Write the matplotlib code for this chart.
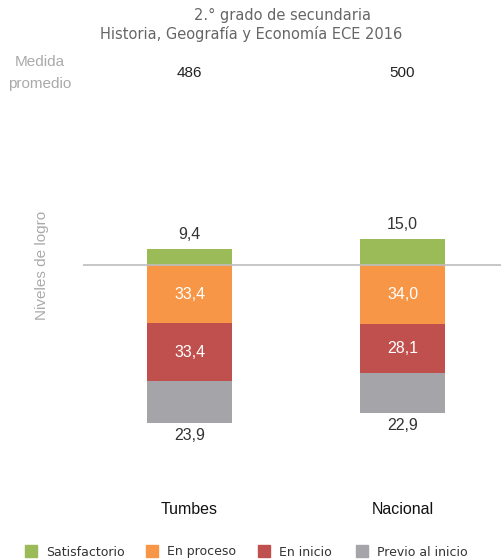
import matplotlib.pyplot as plt
from matplotlib.patches import Rectangle
import numpy as np

plt.rcParams['font.family'] = ['Liberation Sans', 'DejaVu Sans']

# data
regiones = ['Tumbes', 'Nacional']
medida = [486, 500]
satisfactorio = [9.4, 15.0]
en_proceso = [33.4, 34.0]
en_inicio = [33.4, 28.1]
previo = [23.9, 22.9]

niveles = ['Satisfactorio', 'En proceso', 'En inicio', 'Previo al inicio']
colores = ['#9BBB59', '#F79646', '#C0504D', '#A5A5A9']


def fmt(v):
    return f'{v:.1f}'.replace('.', ',')


fig = plt.figure(figsize=(5.01, 5.6), dpi=100)
ax = fig.add_axes([83 / 501, 120 / 560, 418 / 501, 340 / 560])

x = np.arange(len(regiones))
w = 0.40
sat = np.array(satisfactorio)
pro = np.array(en_proceso)
ini = np.array(en_inicio)
pre = np.array(previo)

ax.bar(x, sat, w, bottom=0, color=colores[0])
ax.bar(x, -pro, w, bottom=0, color=colores[1])
ax.bar(x, -ini, w, bottom=-pro, color=colores[2])
ax.bar(x, -pre, w, bottom=-pro - ini, color=colores[3])
ax.axhline(0, color='#BDBDBD', lw=1.2, zorder=3)

for i in range(len(x)):
    ax.text(x[i], sat[i] + 4, fmt(sat[i]), ha='center', va='bottom', fontsize=11.5, color='#333333')
    ax.text(x[i], -pro[i] / 2, fmt(pro[i]), ha='center', va='center', fontsize=11.5, color='white')
    ax.text(x[i], -pro[i] - ini[i] / 2, fmt(ini[i]), ha='center', va='center', fontsize=11.5, color='white')
    ax.text(x[i], -pro[i] - ini[i] - pre[i] - 3, fmt(pre[i]), ha='center', va='top', fontsize=11.5, color='#333333')

ax.set_xlim(-0.5, 1.462)
ax.set_ylim(-100.6, 94.8)
ax.axis('off')

# titles and side labels
fig.text(282 / 501, 1 - 15 / 560, '2.° grado de secundaria', ha='center', va='center',
         fontsize=10.5, color='#666666', family='DejaVu Sans')
fig.text(251 / 501, 1 - 34 / 560, 'Historia, Geografía y Economía ECE 2016', ha='center', va='center',
         fontsize=10.5, color='#666666', family='DejaVu Sans')
fig.text(40 / 501, 1 - 73 / 560, 'Medida\npromedio', ha='center', va='center',
         fontsize=11, color='#AAAAAA', linespacing=1.7)
for i in range(len(x)):
    fig.text((83 + (x[i] + 0.5) * 213) / 501, 1 - 73 / 560, str(medida[i]), ha='center', va='center',
             fontsize=11, color='#222222')
    fig.text((83 + (x[i] + 0.5) * 213) / 501, 1 - 509 / 560, regiones[i], ha='center', va='center',
             fontsize=11.5, color='#111111')
fig.text(42 / 501, 1 - 265 / 560, 'Niveles de logro', rotation=90, ha='center', va='center',
         fontsize=11, color='#AAAAAA')

# legend, drawn by hand so all labels share one baseline
leg_x = [25, 146, 258, 356]
for lx, nombre, c in zip(leg_x, niveles, colores):
    fig.add_artist(Rectangle((lx / 501, 1 - 557 / 560), 12 / 501, 12 / 560,
                             transform=fig.transFigure, color=c))
    fig.text((lx + 21) / 501, 1 - 555.5 / 560, nombre, ha='left', va='baseline',
             fontsize=9, color='#333333', family='DejaVu Sans')

fig.savefig('out.png', dpi=100)
